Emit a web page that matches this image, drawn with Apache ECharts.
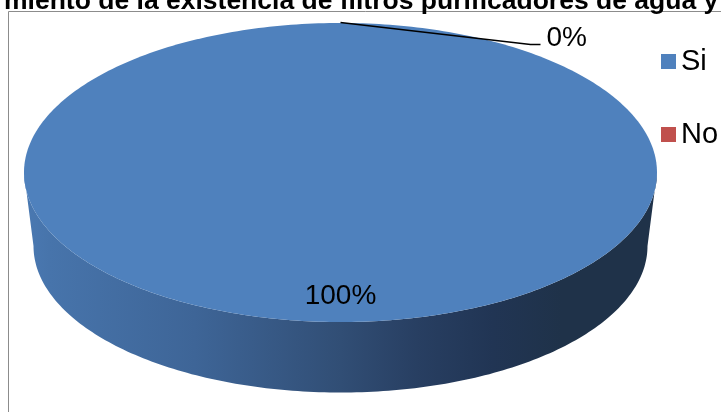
<!DOCTYPE html>
<html><head><meta charset="utf-8">
<script src="https://cdn.jsdelivr.net/npm/echarts@6/dist/echarts.min.js"></script>
<style>html,body{margin:0;padding:0;background:#fff;}#chart{width:721px;height:412px;}</style>
</head><body><div id="chart"></div>
<script>
const titleText = 'miento de la existencia de filtros purificadores de agua y';
const categories = ['Si', 'No'];
const values = [100, 0];
const sliceColors = ['#4F81BD', '#C0504D'];

const total = values.reduce((a, b) => a + b, 0);
const starts = [];
let acc = 0;
values.forEach(v => { starts.push(acc); acc += v; });

// disc layout (pixels)
const geo = { cx: 340.5, cyTop: 172.5, rxTop: 316.5, ryTop: 149.5, cyBot: 246, rxBot: 307, ryBot: 146.5 };
const FONT = '"Liberation Sans", Arial, sans-serif';

function pt(cx, cy, rx, ry, a) { return [cx + rx * Math.sin(a), cy - ry * Math.cos(a)]; }
function arc(cx, cy, rx, ry, a0, a1, n) {
  const pts = [];
  for (let i = 0; i <= n; i++) { const a = a0 + (a1 - a0) * i / n; pts.push(pt(cx, cy, rx, ry, a)); }
  return pts;
}
const sideGradient = {
  type: 'linear', global: true, x: geo.cx - geo.rxTop, y: 0, x2: geo.cx + geo.rxTop, y2: 0,
  colorStops: [
    { offset: 0, color: '#4A79B2' },
    { offset: 0.04, color: '#4774AB' },
    { offset: 0.27, color: '#3E6597' },
    { offset: 0.5, color: '#314E75' },
    { offset: 0.62, color: '#283F62' },
    { offset: 0.74, color: '#213554' },
    { offset: 0.85, color: '#1F3249' },
    { offset: 1, color: '#1F3249' }
  ]
};
const sideGradients = [sideGradient, {
  type: 'linear', global: true, x: geo.cx - geo.rxTop, y: 0, x2: geo.cx + geo.rxTop, y2: 0,
  colorStops: [{ offset: 0, color: '#A94442' }, { offset: 1, color: '#5A2322' }]
}];

function renderSlice(idx) {
  return function (params, api) {
    const v = api.value(0);
    const a0 = starts[idx] / total * 2 * Math.PI;
    const a1 = a0 + v / total * 2 * Math.PI;
    const children = [];
    const s0 = Math.max(a0, Math.PI / 2), s1 = Math.min(a1, 3 * Math.PI / 2);
    if (s1 > s0) {
      const top = arc(geo.cx, geo.cyTop, geo.rxTop, geo.ryTop, s0, s1, 180);
      const bot = arc(geo.cx, geo.cyBot, geo.rxBot, geo.ryBot, s1, s0, 180);
      children.push({ type: 'polygon', z2: 1, shape: { points: top.concat(bot) }, style: { fill: sideGradients[idx] } });
    }
    if (v > 0) {
      let pts = arc(geo.cx, geo.cyTop, geo.rxTop, geo.ryTop, a0, a1, 360);
      if (v < total) pts = [[geo.cx, geo.cyTop]].concat(pts);
      children.push({ type: 'polygon', z2: 2, shape: { points: pts }, style: { fill: sliceColors[idx] } });
    }
    const pct = Math.round(v / total * 100) + '%';
    const mid = (a0 + a1) / 2;
    if (v / total > 0.05) {
      const p = pt(geo.cx, geo.cyTop, geo.rxTop * 0.826, geo.ryTop * 0.826, mid);
      children.push({ type: 'text', z2: 5, style: { text: pct, x: p[0], y: p[1], fill: '#000', font: '28px ' + FONT, align: 'center', verticalAlign: 'middle' } });
    } else {
      const p = pt(geo.cx, geo.cyTop - 0.5, geo.rxTop, geo.ryTop, mid);
      const e1 = [p[0] + 190, p[1] + 22], e2 = [p[0] + 200, p[1] + 22];
      children.push({ type: 'polyline', z2: 5, shape: { points: [p, e1, e2] }, style: { stroke: '#000', lineWidth: 1.5, fill: null } });
      children.push({ type: 'text', z2: 5, style: { text: pct, x: e2[0] + 6, y: e2[1] - 6, fill: '#000', font: '28px ' + FONT, align: 'left', verticalAlign: 'middle' } });
    }
    return { type: 'group', children: children };
  };
}

const series = categories.map((name, i) => ({
  name: name,
  type: 'custom',
  coordinateSystem: 'none',
  silent: true,
  z: 2 + i,
  itemStyle: { color: sliceColors[i] },
  renderItem: renderSlice(i),
  data: [[values[i]]]
}));

const chart = echarts.init(document.getElementById('chart'));
chart.setOption({
  animation: false,
  backgroundColor: '#fff',
  graphic: [
    { type: 'rect', z: 0, shape: { x: 8.5, y: 11.5, width: 900, height: 600 }, style: { fill: null, stroke: '#8C8C8C', lineWidth: 1 } },
    { type: 'text', z: 10, style: { text: titleText, x: 4, y: 1.5, fill: '#000', font: 'bold 26.5px ' + FONT, align: 'left', verticalAlign: 'middle' } }
  ],
  legend: {
    orient: 'vertical', left: 661, top: 46.5, padding: 0,
    itemWidth: 15, itemHeight: 15, itemGap: 43, icon: 'rect',
    selectedMode: false, data: categories,
    textStyle: { fontSize: 29, fontFamily: FONT, color: '#000', lineHeight: 30 }
  },
  series: series
});
</script>
</body></html>
